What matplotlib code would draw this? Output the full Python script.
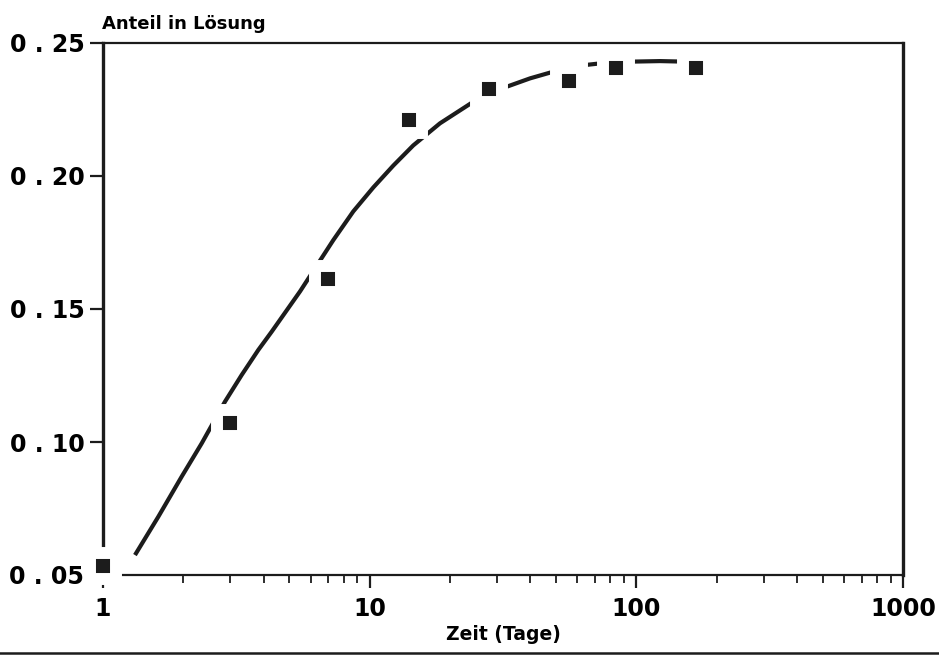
import matplotlib
matplotlib.use("Agg")
import matplotlib.pyplot as plt
from matplotlib.ticker import FixedLocator, FixedFormatter, LogLocator, NullFormatter
import numpy as np

# measured data (days, fraction in solution)
days = [1, 3, 7, 14, 28, 56, 84, 168]
fraction = [0.0534, 0.1071, 0.1613, 0.2211, 0.2327, 0.2357, 0.2406, 0.2406]

# fitted curve
curve_days = [1.318, 1.612, 1.973, 2.345, 2.592, 2.868, 3.312, 3.823, 4.293,
              5.480, 6.146, 7.305, 8.683, 10.32, 12.26, 14.57, 18.35, 24.47,
              31.70, 39.93, 49.95, 61.47, 74.15, 96.1, 122.7, 150.9]
curve_frac = [0.0575, 0.0719, 0.0870, 0.0995, 0.1073, 0.1152, 0.1252, 0.1346,
              0.1415, 0.1566, 0.1643, 0.1759, 0.1867, 0.1957, 0.2039, 0.2115,
              0.2198, 0.2279, 0.2331, 0.2367, 0.2395, 0.2415, 0.2424, 0.2430,
              0.2432, 0.2430]

x_ticks = [1, 10, 100, 1000]
x_labels = ["1", "10", "100", "1000"]
y_ticks = [0.05, 0.10, 0.15, 0.20, 0.25]
y_labels = ["0 . 05", "0 . 10", "0 . 15", "0 . 20", "0 . 25"]

plt.rcParams['font.family'] = ['DejaVu Sans']
fig = plt.figure(figsize=(9.39, 6.56), dpi=100)
ax = fig.add_axes([103/939, 81/656, 800/939, 532/656])

ink = '#1c1c1c'
ax.plot(curve_days, curve_frac, color=ink, lw=3.0, solid_capstyle='butt',
        solid_joinstyle='round', zorder=3)
ax.plot(days, fraction, ls='none', marker='s', ms=18.7, mfc=ink, mec='white',
        mew=8.6, zorder=6, clip_on=False)

ax.set_xscale('log')
ax.set_xlim(1, 1000)
ax.set_ylim(0.05, 0.25)

ax.xaxis.set_major_locator(FixedLocator(x_ticks))
ax.xaxis.set_major_formatter(FixedFormatter(x_labels))
ax.xaxis.set_minor_locator(LogLocator(base=10, subs=np.arange(2, 10)))
ax.xaxis.set_minor_formatter(NullFormatter())
ax.yaxis.set_major_locator(FixedLocator(y_ticks))
ax.yaxis.set_major_formatter(FixedFormatter(y_labels))
ax.yaxis.set_minor_locator(FixedLocator([]))

ax.tick_params(axis='both', which='major', direction='out', length=9.5, width=1.6,
               color=ink, labelsize=17, pad=4)
ax.tick_params(axis='x', which='minor', direction='out', length=5.5, width=1.3, color=ink)
ax.tick_params(axis='x', which='major', pad=6)
ax.tick_params(axis='y', which='major', pad=4)
for lab in ax.get_xticklabels() + ax.get_yticklabels():
    lab.set_fontweight('bold')
    lab.set_color('black')

ax.spines['left'].set_linewidth(2.4)
ax.spines['right'].set_linewidth(2.4)
ax.spines['top'].set_linewidth(1.6)
ax.spines['bottom'].set_linewidth(1.6)
for s in ax.spines.values():
    s.set_color(ink)

fig.text(102/939, 1 - 24/656, "Anteil in Lösung", fontsize=13, fontweight='bold',
         ha='left', va='center')
fig.text(503/939, 1 - 634/656, "Zeit (Tage)", fontsize=13.5, fontweight='bold',
         ha='center', va='center')

fig.add_artist(plt.Line2D([0, 1], [1 - 653/656, 1 - 653/656], color=ink, lw=1.8,
                          transform=fig.transFigure))

fig.savefig("out.png", dpi=100)
